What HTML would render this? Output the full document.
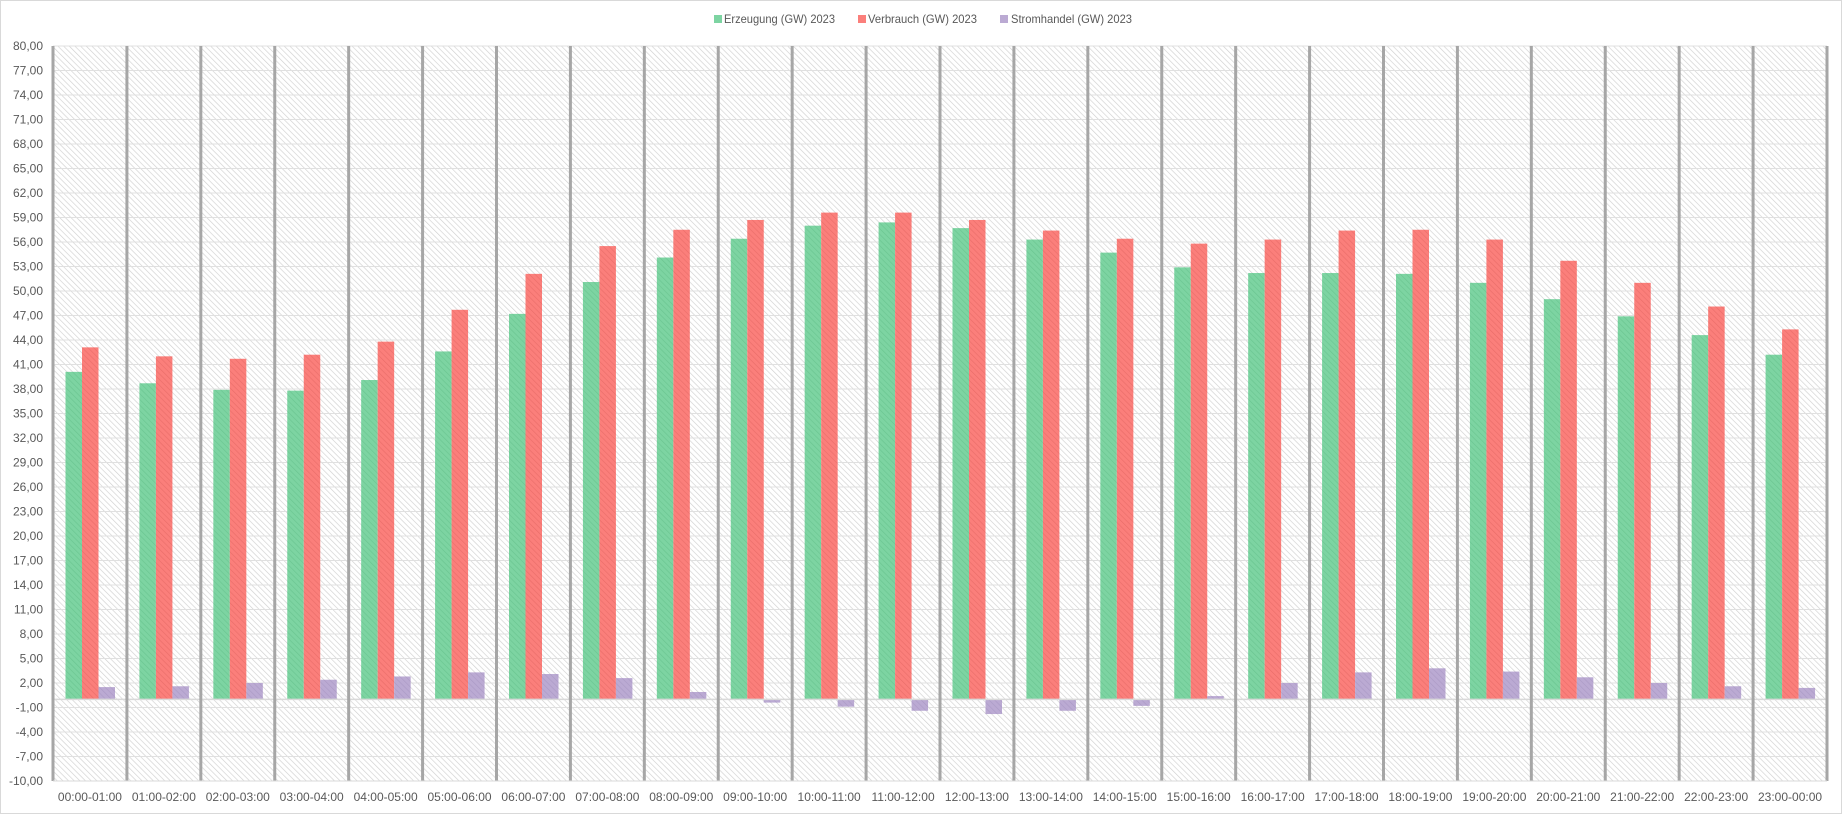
<!DOCTYPE html>
<html><head><meta charset="utf-8"><style>
html,body{margin:0;padding:0;background:#fff}
svg text{font-family:"Liberation Sans",sans-serif;font-size:12px;fill:#595959}
</style></head><body>
<svg id="c" width="1842" height="814" xmlns="http://www.w3.org/2000/svg">
<defs>
<pattern id="h" width="4" height="4" patternUnits="userSpaceOnUse" patternTransform="rotate(-45)">
<rect width="4" height="4" fill="#fff"/><line x1="0" y1="0" x2="0" y2="4" stroke="#d0d0d0" stroke-width="1.3"/></pattern>
<pattern id="hg" width="4" height="4" patternUnits="userSpaceOnUse" patternTransform="rotate(-45)">
<rect width="4" height="4" fill="#7dd4a2"/><line x1="0" y1="0" x2="0" y2="4" stroke="#6ac590" stroke-width="1.3"/></pattern>
<pattern id="hr" width="4" height="4" patternUnits="userSpaceOnUse" patternTransform="rotate(-45)">
<rect width="4" height="4" fill="#fb7f7b"/><line x1="0" y1="0" x2="0" y2="4" stroke="#ea6d69" stroke-width="1.3"/></pattern>
<pattern id="hp" width="4" height="4" patternUnits="userSpaceOnUse" patternTransform="rotate(-45)">
<rect width="4" height="4" fill="#bbaad3"/><line x1="0" y1="0" x2="0" y2="4" stroke="#ab9ac5" stroke-width="1.3"/></pattern>
</defs>
<rect x="0.5" y="0.5" width="1841" height="813" fill="#fff" stroke="#d9d9d9"/>
<g id="g"></g>
<rect x="714" y="15" width="8" height="8" fill="#7dd4a2"/><text x="724" y="23" textLength="111" lengthAdjust="spacingAndGlyphs">Erzeugung (GW) 2023</text>
<rect x="858" y="15" width="8" height="8" fill="#fb7f7b"/><text x="868" y="23" textLength="109" lengthAdjust="spacingAndGlyphs">Verbrauch (GW) 2023</text>
<rect x="1000" y="15" width="8" height="8" fill="#bbaad3"/><text x="1011" y="23" textLength="121" lengthAdjust="spacingAndGlyphs">Stromhandel (GW) 2023</text>
</svg>
<script>
var G=[40.1,38.7,37.9,37.8,39.1,42.6,47.2,51.1,54.1,56.4,58.0,58.4,57.7,56.3,54.7,52.9,52.2,52.2,52.1,51.0,49.0,46.9,44.6,42.2];
var R=[43.1,42.0,41.7,42.2,43.8,47.7,52.1,55.5,57.5,58.7,59.6,59.6,58.7,57.4,56.4,55.8,56.3,57.4,57.5,56.3,53.7,51.0,48.1,45.3];
var P=[1.5,1.6,2.0,2.4,2.8,3.3,3.1,2.6,0.9,-0.4,-0.9,-1.4,-1.8,-1.4,-0.8,0.4,2.0,3.3,3.8,3.4,2.7,2.0,1.6,1.4];
var L=53,Rt=1827,T=46,B=781,s=(B-T)/90,z=T+80*s,cw=(Rt-L)/24,h='';
function y(v){return T+(80-v)*s}
h+='<rect x="'+L+'" y="'+T+'" width="'+(Rt-L)+'" height="'+(B-T)+'" fill="url(#h)"/>';
for(var v=80;v>=-10;v-=3){var yy=y(v);h+='<line x1="'+L+'" x2="'+Rt+'" y1="'+yy+'" y2="'+yy+'" stroke="#e0e0e0" stroke-width="1"/>';
h+='<text x="43" y="'+(yy+4)+'" text-anchor="end">'+v.toFixed(2).replace('.',',')+'</text>';}
function bar(x,v,f){var a=y(Math.max(v,0)),b=y(Math.min(v,0));h+='<rect x="'+x+'" y="'+a+'" width="16.5" height="'+(b-a)+'" fill="url(#'+f+')"/>';}
for(var i=0;i<24;i++){var x0=L+i*cw+12.5;bar(x0,G[i],'hg');bar(x0+16.5,R[i],'hr');bar(x0+33,P[i],'hp');
var hh=String(i).padStart(2,'0'),nn=String((i+1)%24).padStart(2,'0');
h+='<text x="'+(L+i*cw+cw/2)+'" y="801" text-anchor="middle">'+hh+':00-'+nn+':00</text>';}
h+='<line x1="'+L+'" x2="'+Rt+'" y1="'+z+'" y2="'+z+'" stroke="#d9d9d9" stroke-width="1.5"/>';
for(var i=0;i<=24;i++){var xx=L+i*cw;h+='<line x1="'+xx+'" x2="'+xx+'" y1="'+T+'" y2="'+B+'" stroke="#a6a6a6" stroke-width="3"/>';}
h+='<line x1="'+L+'" x2="'+Rt+'" y1="'+B+'" y2="'+B+'" stroke="#d9d9d9" stroke-width="1"/>';
document.getElementById('g').innerHTML=h;
</script>
</body></html>
